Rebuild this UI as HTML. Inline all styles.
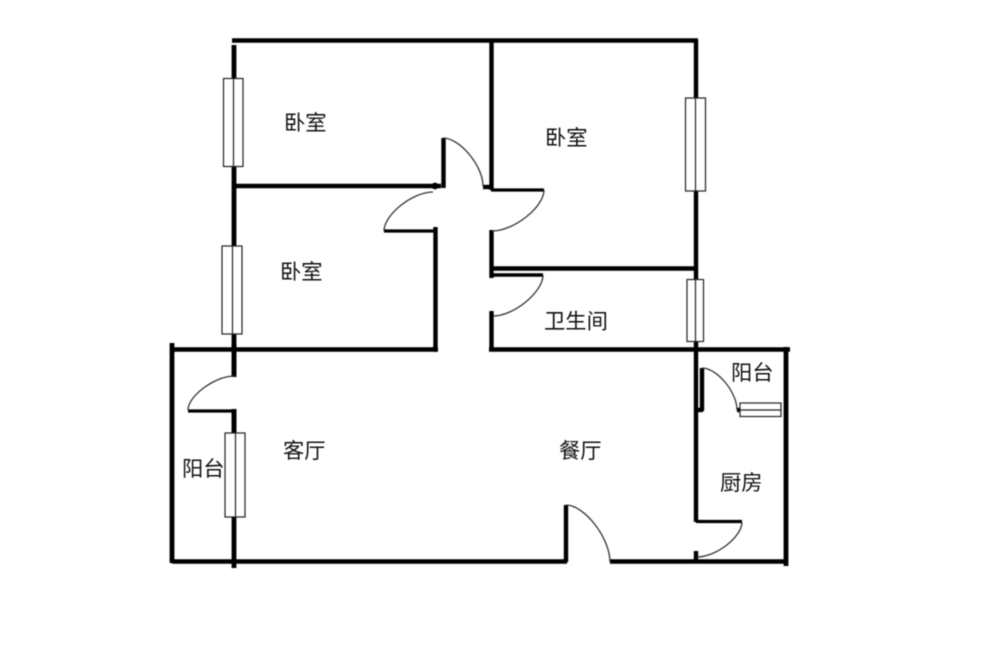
<!DOCTYPE html>
<html><head><meta charset="utf-8"><style>
html,body{margin:0;padding:0;background:#fff;width:1000px;height:661px;overflow:hidden}
svg{display:block;filter:blur(.4px)}
text{font-family:"Liberation Sans","WenQuanYi Zen Hei","Noto Sans CJK SC",sans-serif;font-size:21.3px;fill:#111}
.w{stroke:#000;stroke-width:4.4;fill:none}
.a{stroke:#333;stroke-width:1.3;fill:none}
.g{fill:#fff;stroke:#222;stroke-width:1.2}
.l{stroke:#222;stroke-width:1.2}
</style></head><body>
<svg width="1000" height="661" viewBox="0 0 1000 661" xmlns="http://www.w3.org/2000/svg">
<rect width="1000" height="661" fill="#fff"/>
<!-- walls -->
<path class="w" d="M232 40.5H698"/>
<path class="w" style="stroke-width:4.8" d="M234 45V568"/>
<path class="w" d="M491.5 40V190"/>
<path class="w" d="M696 40V280"/>
<path class="w" d="M234 186H441"/>
<path class="w" d="M443.5 138V188"/>
<path class="w" d="M483 187H491"/>
<path class="w" style="stroke-width:3.2" d="M384 231H436"/>
<path class="w" d="M435.5 227V351"/>
<path class="w" d="M171 349.5H438"/>
<path class="w" style="stroke-width:3.2" d="M491 190H544"/>
<path class="w" d="M491.5 230V278"/>
<path class="w" d="M491 268.5H696"/>
<path class="w" style="stroke-width:3.6" d="M491 275H543"/>
<path class="w" d="M491.5 311V351"/>
<path class="w" d="M489 349.5H790"/>
<path class="w" style="stroke-width:4.8" d="M172 343V563"/>
<path class="w" d="M172 561.5H567"/>
<path class="w" d="M610 561.5H788"/>
<path class="w" d="M566 505V562"/>
<path class="w" d="M696 342V522"/>
<path class="w" d="M696 551V562"/>
<path class="w" style="stroke-width:3.2" d="M696 521.5H742"/>
<path class="w" d="M702 368V411"/>
<path class="w" d="M694 410H703"/>
<path class="w" d="M737 410H742"/>
<path class="w" style="stroke-width:4.8" d="M786 347V566"/>
<path class="w" style="stroke-width:3.2" d="M188 411H234"/>
<circle cx="435" cy="186" r="3.4" fill="#000"/>
<circle cx="435" cy="349" r="3" fill="#000"/>
<!-- gap in left wall for door -->
<rect x="230" y="377" width="8" height="32" fill="#fff"/>
<path class="w" style="stroke-width:4.8" d="M234 343V377M234 409V433"/>
<!-- door arcs -->
<path class="a" d="M443 138C460 138 483 166 483 186"/>
<path class="a" d="M433 192C412 192 384 215 384 231"/>
<path class="a" d="M544 190C544 207 514 231 492 231"/>
<path class="a" d="M543 275C543 292 514 316 493 316"/>
<path class="a" d="M234 376C215 376 188 396 188 410"/>
<path class="a" d="M702 368C717 368 737 392 737 410"/>
<path class="a" d="M742 522C742 537 716 557 697 557"/>
<path class="a" d="M566 505C584.5 505 610 538 610 562"/>
<!-- windows -->
<rect class="g" x="223.5" y="78.5" width="19.5" height="88"/><path class="l" d="M233.5 78V167"/>
<rect class="g" x="222" y="246" width="20" height="88"/><path class="l" d="M232.5 246V334"/>
<rect class="g" x="225" y="433" width="20" height="84"/><path class="l" d="M235.5 433V517"/>
<rect class="g" x="685.5" y="98" width="20" height="93"/><path class="l" d="M695.5 98V191"/>
<rect class="g" x="687" y="279.5" width="16.5" height="62"/><path class="l" d="M695.5 280V342"/>
<rect class="g" x="740" y="403" width="41" height="13.5"/><path class="l" d="M740 410H781"/>
<!-- labels -->
<text x="284" y="130">卧室</text>
<text x="280" y="279">卧室</text>
<text x="545" y="145">卧室</text>
<text x="544" y="328.5">卫生间</text>
<text x="283" y="458">客厅</text>
<text x="559" y="458">餐厅</text>
<text x="182" y="476">阳台</text>
<text x="731" y="380">阳台</text>
<text x="720" y="490">厨房</text>
</svg>
</body></html>
